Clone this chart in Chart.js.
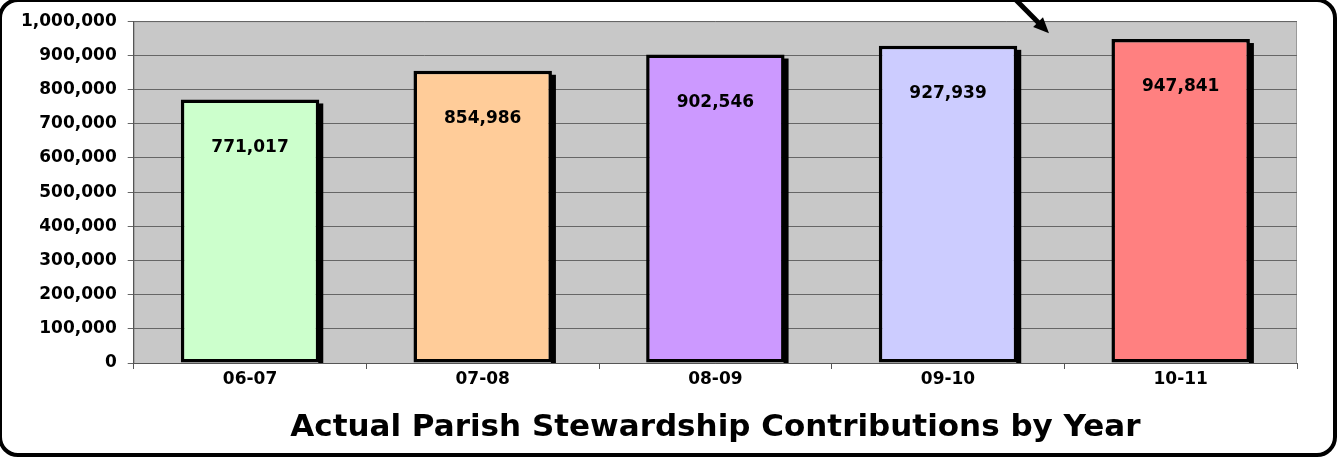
<!DOCTYPE html>
<html>
<head>
<meta charset="utf-8">
<script src="https://cdn.jsdelivr.net/npm/chart.js@4"></script>
<style>
  body { margin: 0; background: #fff; }
  #wrap { width: 1340px; height: 466px; }
</style>
</head>
<body>
<div id="wrap"><canvas id="grafico" width="1340" height="466"></canvas></div>
<script>
const CATEGORIAS = ["06-07", "07-08", "08-09", "09-10", "10-11"];
const VALORES = [771017, 854986, 902546, 927939, 947841];
const COLORES = ["#CCFFCC", "#FFCC99", "#CC99FF", "#CCCCFF", "#FF8080"];
const Y_MIN = 0;
const Y_MAX = 1000000;
const Y_PASO = 100000;
const TITULO_X = "Actual Parish Stewardship Contributions by Year";

const FUENTE = "'DejaVu Sans', 'Liberation Sans', Arial, sans-serif";

// fondo gris del area del grafico
const fondoPlot = {
    id: "fondoPlot",
    beforeDraw(chart) {
        let a = chart.chartArea;
        let ctx = chart.ctx;
        ctx.save();
        ctx.fillStyle = "#C8C8C8";
        ctx.fillRect(a.left, a.top, a.right - a.left, a.bottom - a.top);
        ctx.strokeStyle = "#9a9a9a";
        ctx.lineWidth = 1;
        ctx.strokeRect(a.left + 0.5, a.top + 0.5, a.right - a.left - 1, a.bottom - a.top);
        ctx.restore();
    }
};

// sombra negra de cada barra
const sombras = {
    id: "sombras",
    beforeDatasetsDraw(chart) {
        let a = chart.chartArea;
        let ctx = chart.ctx;
        ctx.save();
        ctx.beginPath();
        ctx.rect(a.left, a.top, a.right - a.left, a.bottom - a.top);
        ctx.clip();
        ctx.fillStyle = "#000";
        for (let bar of chart.getDatasetMeta(0).data) {
            let p = bar.getProps(["x", "y", "base", "width"], true);
            let der = p.x + p.width / 2;
            ctx.fillRect(der - 1, p.y + 4, 5, p.base - p.y);
        }
        ctx.restore();
    }
};

// etiquetas de valor dentro de las barras
const etiquetas = {
    id: "etiquetas",
    afterDatasetsDraw(chart) {
        let ctx = chart.ctx;
        ctx.save();
        ctx.font = "bold 17px " + FUENTE;
        ctx.fillStyle = "#000";
        ctx.textAlign = "center";
        ctx.textBaseline = "middle";
        chart.getDatasetMeta(0).data.forEach((bar, i) => {
            let p = bar.getProps(["x", "y"], true);
            ctx.fillText(VALORES[i].toLocaleString("en-US"), p.x, p.y + 48);
        });
        ctx.restore();
    }
};

// marco redondeado y flecha
const marco = {
    id: "marco",
    afterDraw(chart) {
        let ctx = chart.ctx;
        let a = chart.chartArea;
        ctx.save();
        ctx.strokeStyle = "#000";
        ctx.lineWidth = 4;
        ctx.beginPath();
        ctx.roundRect(0, 0, chart.width - 5, chart.height - 11, 18);
        ctx.stroke();

        let x1 = chart.scales.x.getPixelForValue(3) + 66;
        let y1 = -2;
        let x2 = x1 + 35;
        let y2 = a.top + 12;
        ctx.lineWidth = 5;
        ctx.beginPath();
        ctx.moveTo(x1, y1);
        ctx.lineTo(x2 - 8, y2 - 8);
        ctx.stroke();
        let ang = Math.atan2(y2 - y1, x2 - x1);
        ctx.fillStyle = "#000";
        ctx.beginPath();
        ctx.moveTo(x2, y2);
        ctx.lineTo(x2 - 17 * Math.cos(ang - 0.42), y2 - 17 * Math.sin(ang - 0.42));
        ctx.lineTo(x2 - 17 * Math.cos(ang + 0.42), y2 - 17 * Math.sin(ang + 0.42));
        ctx.closePath();
        ctx.fill();
        ctx.restore();
    }
};

var ctx = document.getElementById("grafico").getContext("2d");
var miGrafico = new Chart(ctx, {
    type: "bar",
    data: {
        labels: CATEGORIAS,
        datasets: [{
            data: VALORES,
            backgroundColor: COLORES,
            borderColor: "#000",
            borderWidth: 3.5,
            borderSkipped: false,
            barPercentage: 0.595,
            categoryPercentage: 1
        }]
    },
    options: {
        responsive: false,
        animation: false,
        devicePixelRatio: 1,
        layout: {
            padding: { left: 10, right: 43, top: 12, bottom: 19 }
        },
        plugins: {
            legend: { display: false },
            tooltip: { enabled: false }
        },
        scales: {
            x: {
                afterFit: s => { s.height = 84; },
                grid: {
                    offset: true,
                    drawOnChartArea: false,
                    drawTicks: true,
                    tickLength: 6,
                    color: "#555"
                },
                border: { color: "#555", width: 1 },
                ticks: {
                    color: "#000",
                    padding: 0,
                    font: { family: FUENTE, size: 17, weight: "bold" }
                },
                title: {
                    display: true,
                    text: TITULO_X,
                    color: "#000",
                    padding: { top: 17, bottom: 0 },
                    font: { family: FUENTE, size: 31, weight: "bold" }
                }
            },
            y: {
                min: Y_MIN,
                max: Y_MAX,
                grid: {
                    color: "#666",
                    tickLength: 6
                },
                border: { color: "#555", width: 1 },
                ticks: {
                    stepSize: Y_PASO,
                    color: "#000",
                    padding: 11,
                    font: { family: FUENTE, size: 17, weight: "bold" },
                    callback: v => v.toLocaleString("en-US")
                }
            }
        }
    },
    plugins: [fondoPlot, sombras, etiquetas, marco]
});
</script>
</body>
</html>
